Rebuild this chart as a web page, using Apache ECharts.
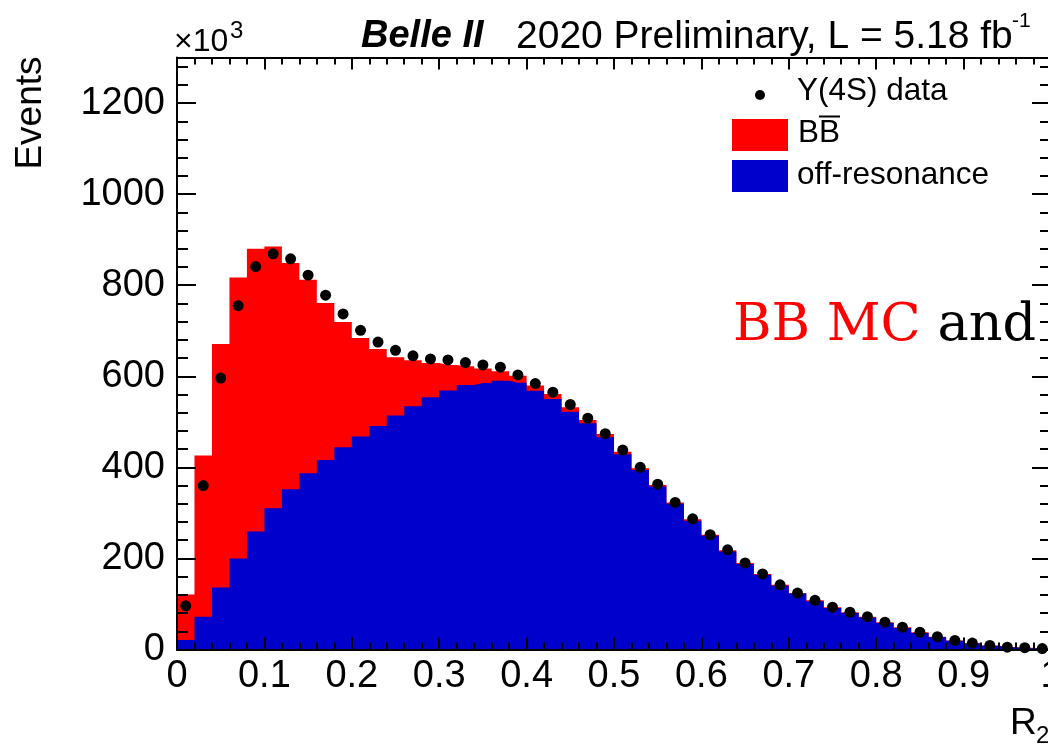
<!DOCTYPE html>
<html><head><meta charset="utf-8">
<script src="https://cdn.jsdelivr.net/npm/echarts@6/dist/echarts.min.js"></script>
<style>html,body{margin:0;padding:0;background:#fff}#c{width:1048px;height:747px}</style>
</head><body><div id="c"></div>
<script>
// bin centres of the R2 histogram (50 bins)
const binCenters = [0.01,0.03,0.05,0.07,0.09,0.11,0.13,0.15,0.17,0.19,
  0.21,0.23,0.25,0.27,0.29,0.31,0.33,0.35,0.37,0.39,
  0.41,0.43,0.45,0.47,0.49,0.51,0.53,0.55,0.57,0.59,
  0.61,0.63,0.65,0.67,0.69,0.71,0.73,0.75,0.77,0.79,
  0.81,0.83,0.85,0.87,0.89,0.91,0.93,0.95,0.97,0.99];
// events (x10^3)
const offResonance = [21,72,136,200,259,310,352,387,416,444,
  468,491,514,534,554,569,581,585,590,586,
  568,550,522,497,466,429,394,358,320,283,
  250,215,188,164,140,123,106,91,80,70,
  58,47,36,27,19,13,8,5,3,2];
const bbbar = [100,354,535,617,621,575,497,425,345,275,
  216,169,128,101,75,56,41,32,21,15,
  12,11,10,7,7,5,4,3,3,3,
  2,3,2,2,2,1,2,2,2,2,
  2,2,2,1,1,1,1,0,1,0];
const data4S = [96,360,596,755,841,869,858,822,778,737,
  701,675,657,645,638,636,630,625,620,603,
  584,565,538,508,474,438,400,363,323,287,
  252,219,190,166,142,124,108,93,82,72,
  60,49,38,28,20,14,9,5,4,2];
const xMin = 0, xMax = 1, xMajor = 0.1, xMinor = 0.02;
const yMin = 0, yMax = 1300, yMajor = 200, yMinor = 40;

const half = (binCenters[1] - binCenters[0]) / 2;
function stepData(vals) {
  const pts = [[binCenters[0] - half, vals[0]]];
  binCenters.forEach((c, i) => pts.push([c, vals[i]]));
  pts.push([binCenters[binCenters.length - 1] + half, vals[vals.length - 1]]);
  return pts;
}
const totalMC = offResonance.map((v, i) => v + bbbar[i]);

const FONT = 'Liberation Sans';
const black = '#000';
function xAx(pos, interval, len, showLine, showLabel) {
  return {
    type: 'value', gridIndex: 0, position: pos, min: xMin, max: xMax, interval: interval, z: 10,
    axisLine: {show: showLine, onZero: false, lineStyle: {color: black, width: 2}},
    axisTick: {show: true, inside: true, length: len, lineStyle: {color: black, width: 2}},
    axisLabel: {show: showLabel, color: black, fontSize: 38, fontFamily: FONT, margin: 8,
      showMaxLabel: true, showMinLabel: true, hideOverlap: false, formatter: v => String(+v.toFixed(2))},
    splitLine: {show: false}
  };
}
function yAx(pos, interval, len, showLine, showLabel) {
  return {
    type: 'value', gridIndex: 0, position: pos, min: yMin, max: yMax, interval: interval, z: 10,
    axisLine: {show: showLine, onZero: false, lineStyle: {color: black, width: 2}},
    axisTick: {show: true, inside: true, length: len, lineStyle: {color: black, width: 2}},
    axisLabel: {show: showLabel, color: black, fontSize: 38, fontFamily: FONT, margin: 12,
      showMaxLabel: false, formatter: v => String(v)},
    splitLine: {show: false}
  };
}

const chart = echarts.init(document.getElementById('c'), null, {renderer: 'canvas'});
chart.setOption({
  animation: false,
  backgroundColor: '#fff',
  grid: {left: 177, right: -3, top: 57.5, bottom: 97.5, containLabel: false, outerBoundsMode: 'none'},
  xAxis: [
    xAx('bottom', xMajor, 12, true, true),
    xAx('bottom', xMinor, 7, false, false),
    xAx('top', xMajor, 12, true, false),
    xAx('top', xMinor, 7, false, false)
  ],
  yAxis: [
    yAx('left', yMajor, 19, true, true),
    yAx('left', yMinor, 11, false, false),
    yAx('right', yMajor, 19, true, false),
    yAx('right', yMinor, 11, false, false)
  ],
  series: [
    {name: 'BB', type: 'line', step: 'middle', data: stepData(totalMC), symbol: 'none',
     lineStyle: {width: 0}, areaStyle: {color: '#ff0000', opacity: 1}, itemStyle: {color: '#ff0000'}, z: 2},
    {name: 'off-resonance', type: 'line', step: 'middle', data: stepData(offResonance), symbol: 'none',
     lineStyle: {width: 0}, areaStyle: {color: '#0000cc', opacity: 1}, itemStyle: {color: '#0000cc'}, z: 3},
    {name: 'Y(4S) data', type: 'scatter', data: binCenters.map((c, i) => [c, data4S[i]]),
     symbol: 'circle', symbolSize: 11, itemStyle: {color: '#000', opacity: 1}, z: 20, clip: false}
  ],
  graphic: [
    // title
    {type: 'text', left: 361, top: 18, z: 50, style: {text: 'Belle II', font: 'italic bold 38px "Liberation Sans"', fill: '#000'}},
    {type: 'text', left: 516, top: 18, z: 50, style: {text: '2020 Preliminary, L = 5.18 fb', font: '39px "Liberation Sans"', fill: '#000'}},
    {type: 'text', left: 1012, top: 11, z: 50, style: {text: '-1', font: '21px "Liberation Sans"', fill: '#000'}},
    // x10^3
    {type: 'text', left: 174, top: 26, z: 50, style: {text: '\u00d710', font: '32px "Liberation Sans"', fill: '#000'}},
    {type: 'text', left: 230, top: 19, z: 50, style: {text: '3', font: '24px "Liberation Sans"', fill: '#000'}},
    // axis titles
    {type: 'text', x: 31, y: 113, rotation: Math.PI / 2, z: 50,
     style: {text: 'Events', font: '37px "Liberation Sans"', fill: '#000', align: 'center', verticalAlign: 'middle'}},
    {type: 'text', left: 1010, top: 705, z: 50, style: {text: 'R', font: '37px "Liberation Sans"', fill: '#000'}},
    {type: 'text', left: 1036, top: 724, z: 50, style: {text: '2', font: '24px "Liberation Sans"', fill: '#000'}},
    // legend
    {type: 'circle', shape: {cx: 760, cy: 95, r: 5}, style: {fill: '#000'}, z: 50},
    {type: 'text', x: 797, y: 91, z: 50, style: {text: 'Y(4S) data', font: '31.5px "Liberation Sans"', fill: '#000', verticalAlign: 'middle'}},
    {type: 'rect', shape: {x: 732, y: 119, width: 56, height: 32}, style: {fill: '#ff0000'}, z: 50},
    {type: 'text', x: 798, y: 133, z: 50, style: {text: 'BB', font: '31.5px "Liberation Sans"', fill: '#000', verticalAlign: 'middle'}},
    {type: 'line', shape: {x1: 819, y1: 116.5, x2: 840, y2: 116.5}, style: {stroke: '#000', lineWidth: 2}, z: 50},
    {type: 'rect', shape: {x: 732, y: 160, width: 56, height: 32}, style: {fill: '#0000cc'}, z: 50},
    {type: 'text', x: 797, y: 175, z: 50, style: {text: 'off-resonance', font: '31.5px "Liberation Sans"', fill: '#000', verticalAlign: 'middle'}},
    // overlay fragment
    {type: 'text', x: 733, y: 326, z: 50, style: {
      text: '{r|BB MC} {k|and}', verticalAlign: 'middle',
      rich: {r: {fill: '#ff0000', font: '52.5px "DejaVu Serif"'}, k: {fill: '#000', font: '52.5px "DejaVu Serif"'}},
      font: '52.5px "DejaVu Serif"'}}
  ]
});
</script>
</body></html>
